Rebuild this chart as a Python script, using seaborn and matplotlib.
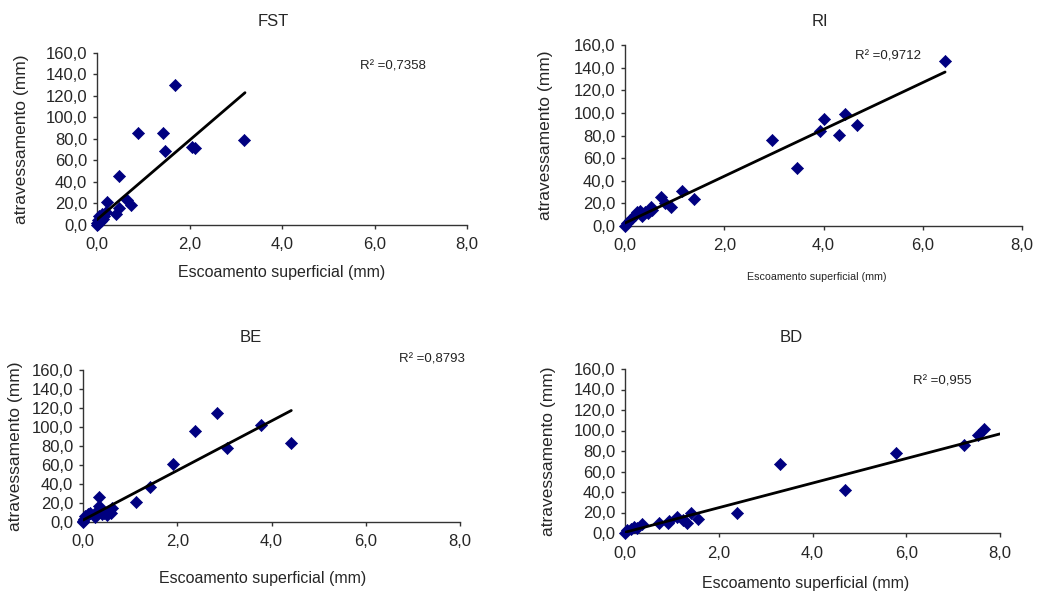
import matplotlib
matplotlib.use("Agg")
import matplotlib.pyplot as plt
from matplotlib.ticker import FuncFormatter, MultipleLocator
import numpy as np
import pandas as pd
import seaborn as sns

# FST
fst_x = [0, 0, 0.02, 0.03, 0.05, 0.08, 0.1, 0.12, 0.15, 0.2, 0.22, 0.42, 0.47, 0.48,
         0.64, 0.73, 0.89, 1.43, 1.47, 1.69, 2.05, 2.12, 3.18]
fst_y = [0, 2, 5, 1, 8, 4, 10, 6, 8, 12, 21, 10, 15.5, 45.5,
         23, 18.5, 85.5, 85.5, 69, 130, 73, 72, 79.5]

# RI
ri_x = [0, 0.05, 0.1, 0.15, 0.2, 0.25, 0.3, 0.35, 0.4, 0.46, 0.53, 0.55, 0.73, 0.8,
        0.92, 1.15, 1.39, 2.96, 3.47, 3.93, 4.01, 4.31, 4.44, 4.67, 6.45]
ri_y = [0, 3, 5, 7, 10, 12, 13, 9, 12, 11.5, 17, 14, 25.5, 20,
        17, 31, 24, 76, 51, 84, 95, 80.5, 99, 89, 146]

# BE
be_x = [0, 0, 0.02, 0.05, 0.1, 0.15, 0.25, 0.3, 0.33, 0.35, 0.4, 0.45, 0.5, 0.55,
        0.6, 0.62, 1.13, 1.43, 1.9, 2.38, 2.85, 3.06, 3.77, 4.42]
be_y = [0, 1, 3, 6, 8, 9, 5, 12, 17, 26, 8, 10, 7, 12,
        9, 15, 21, 37, 61, 96, 115, 78, 102, 83]

# BD
bd_x = [0, 0.05, 0.12, 0.2, 0.25, 0.36, 0.72, 0.91, 0.93, 1.1, 1.24, 1.32, 1.4, 1.55,
        2.38, 3.3, 4.7, 5.79, 7.23, 7.53, 7.66]
bd_y = [0, 3, 3.6, 6, 5, 8.8, 9.7, 9.7, 12, 15.6, 12.7, 9.7, 19.5, 13.7,
        19.5, 67, 42, 78, 86, 96, 101]

# linear trend lines (intercept, slope, x end) as shown in the chart
fst_trend = (5.0, 36.9, 3.2)
ri_trend = (2.6, 20.7, 6.45)
be_trend = (2.0, 26.1, 4.42)
bd_trend = (0.7, 12.0, 8.0)

r2_labels = ["R\u00b2 =0,7358", "R\u00b2 =0,9712", "R\u00b2 =0,8793", "R\u00b2 =0,955"]
titles = ["FST", "RI", "BE", "BD"]

sns.set_style("ticks")
plt.rcParams['font.family'] = ['Liberation Sans', 'DejaVu Sans']

fig = plt.figure(figsize=(10.37, 5.96), dpi=100)
W, H = 1037, 596

def px_axes(l, r, top, bottom):
    return fig.add_axes([l / W, 1 - bottom / H, (r - l) / W, (bottom - top) / H])

panels = [
    dict(ax=px_axes(97, 467, 53, 225), x=fst_x, y=fst_y, trend=fst_trend,
         r2=(0.711, 0.919), title=(273, 22), xlab=(0.5, -0.275, 11.5), ylab=-0.203),
    dict(ax=px_axes(625, 1022, 45, 226), x=ri_x, y=ri_y, trend=ri_trend,
         r2=(0.579, 0.934), title=(820, 22), xlab=(0.484, -0.282, 7.7), ylab=-0.2015),
    dict(ax=px_axes(83, 460, 370, 522), x=be_x, y=be_y, trend=be_trend,
         r2=(0.838, 1.066), title=(251, 338), xlab=(0.477, -0.375, 11.5), ylab=-0.180),
    dict(ax=px_axes(625, 1000, 369, 533), x=bd_x, y=bd_y, trend=bd_trend,
         r2=(0.768, 0.921), title=(791, 338), xlab=(0.483, -0.31, 11.5), ylab=-0.205),
]

fmt = FuncFormatter(lambda v, p: f"{v:.1f}".replace(".", ","))

for i, p in enumerate(panels):
    ax = p['ax']
    df = pd.DataFrame({'x': p['x'], 'y': p['y']})
    b0, b1, xend = p['trend']
    line = pd.DataFrame({'x': [0.0, xend]})
    line['y'] = b0 + b1 * line['x']

    sns.scatterplot(data=df, x='x', y='y', marker='D', s=38, color='#000080',
                    edgecolor='#000080', linewidth=0.5, ax=ax, clip_on=False, zorder=3)
    sns.lineplot(data=line, x='x', y='y', color='black', linewidth=2.0, ax=ax, zorder=4)

    ax.set_xlim(0, 8)
    ax.set_ylim(0, 160)
    ax.xaxis.set_major_locator(MultipleLocator(2))
    ax.yaxis.set_major_locator(MultipleLocator(20))
    ax.xaxis.set_major_formatter(fmt)
    ax.yaxis.set_major_formatter(fmt)
    ax.tick_params(axis='both', labelsize=12, direction='out', length=3, width=1,
                   color='#333333')
    ax.tick_params(axis='x', pad=6)
    ax.tick_params(axis='y', pad=4)
    sns.despine(ax=ax)
    for s in ['left', 'bottom']:
        ax.spines[s].set_color('#333333')
        ax.spines[s].set_linewidth(1)

    ax.set_xlabel('Escoamento superficial (mm)', fontsize=p['xlab'][2])
    ax.xaxis.label.set_va('center')
    ax.xaxis.set_label_coords(p['xlab'][0], p['xlab'][1])
    ax.set_ylabel('atravessamento (mm)', fontsize=12.5)
    ax.yaxis.label.set_va('center')
    ax.yaxis.set_label_coords(p['ylab'], 0.5)

    ax.text(p['r2'][0], p['r2'][1], r2_labels[i], transform=ax.transAxes,
            fontsize=9.5, ha='left', va='center', color='#222222')
    fig.text(p['title'][0] / W, 1 - p['title'][1] / H, titles[i], fontsize=12,
             ha='center', va='center')

fig.savefig('out.png', dpi=100, facecolor='white')
